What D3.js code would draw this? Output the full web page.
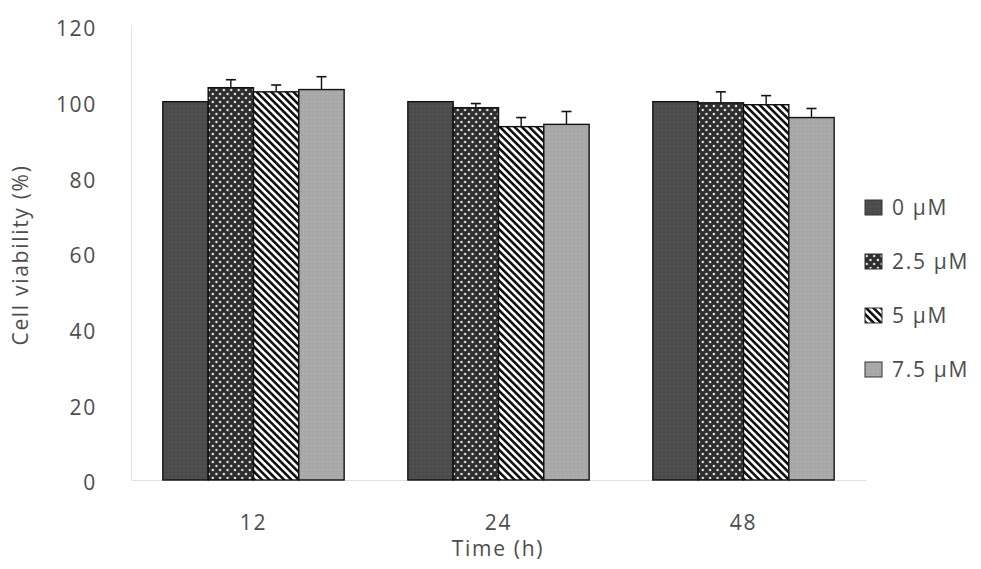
<!DOCTYPE html>
<html>
<head>
<meta charset="utf-8">
<script src="https://cdn.jsdelivr.net/npm/d3@7"></script>
<style>
  body { margin: 0; background: #fff; }
  text { font-family: "Open Sans", "DejaVu Sans", sans-serif; fill: #4d4d4d; letter-spacing: 1.7px; }
</style>
</head>
<body>
<div id="chart"></div>
<script>
var times = ["12", "24", "48"];
var doses = ["0 \u00b5M", "2.5 \u00b5M", "5 \u00b5M", "7.5 \u00b5M"];
var dose0 = [100, 100, 100];
var dose25 = [103.7, 98.4, 99.7];
var dose5 = [102.6, 93.4, 99.2];
var dose75 = [103.2, 94.0, 95.8];
var err0 = [0, 0, 0];
var err25 = [2.1, 1.1, 2.9];
var err5 = [1.8, 2.4, 2.4];
var err75 = [3.4, 3.4, 2.4];
var yTicks = [0, 20, 40, 60, 80, 100, 120];

var means = [dose0, dose25, dose5, dose75];
var errs = [err0, err25, err5, err75];
var fills = ["url(#p0)", "url(#p25)", "url(#p5)", "url(#p75)"];

var W = 981, H = 569;
var fs = "21px";
var svg = d3.select("#chart").append("svg")
    .attr("width", W).attr("height", H);

// patterns
var defs = svg.append("defs");
var p0 = defs.append("pattern").attr("id", "p0")
    .attr("patternUnits", "userSpaceOnUse").attr("width", 4).attr("height", 4);
p0.append("rect").attr("width", 4).attr("height", 4).attr("fill", "#4d4d4d");
p0.append("rect").attr("x", 1).attr("y", 2).attr("width", 1).attr("height", 1).attr("fill", "#5a5a5a");
p0.append("rect").attr("x", 3).attr("y", 0).attr("width", 1).attr("height", 1).attr("fill", "#444");

var p25 = defs.append("pattern").attr("id", "p25")
    .attr("patternUnits", "userSpaceOnUse").attr("width", 7.4).attr("height", 8);
p25.append("rect").attr("width", 7.4).attr("height", 8).attr("fill", "#2e2e2e");
p25.append("circle").attr("cx", 1.8).attr("cy", 2).attr("r", 1.2).attr("fill", "#e6e6e6");
p25.append("circle").attr("cx", 5.5).attr("cy", 6).attr("r", 1.2).attr("fill", "#e6e6e6");

var p5 = defs.append("pattern").attr("id", "p5")
    .attr("patternUnits", "userSpaceOnUse").attr("width", 5.2).attr("height", 10)
    .attr("patternTransform", "rotate(-45)");
p5.append("rect").attr("width", 5.2).attr("height", 10).attr("fill", "#fff");
p5.append("rect").attr("width", 2.6).attr("height", 10).attr("fill", "#111");

var p75 = defs.append("pattern").attr("id", "p75")
    .attr("patternUnits", "userSpaceOnUse").attr("width", 4).attr("height", 4);
p75.append("rect").attr("width", 4).attr("height", 4).attr("fill", "#a9a9a9");
p75.append("rect").attr("x", 0).attr("y", 1).attr("width", 1).attr("height", 1).attr("fill", "#b3b3b3");
p75.append("rect").attr("x", 2).attr("y", 3).attr("width", 1).attr("height", 1).attr("fill", "#9e9e9e");

var x = d3.scaleBand().domain(times).range([131, 866])
    .paddingInner(0.26).paddingOuter(0.13);
var xi = d3.scaleBand().domain(d3.range(doses.length)).range([0, x.bandwidth()]);
var y = d3.scaleLinear().domain([0, 120]).range([480, 26]);

// axes
var ya = svg.append("g").attr("transform", "translate(131,0)")
    .call(d3.axisLeft(y).tickValues(yTicks).tickSize(0).tickPadding(34));
ya.select(".domain").attr("stroke", "#e6e6e6");
ya.selectAll("text").style("font-size", fs).attr("fill", null).attr("font-family", null)
    .attr("y", 3);

var xa = svg.append("g").attr("transform", "translate(0,480)")
    .call(d3.axisBottom(x).tickSize(0).tickPadding(35));
xa.select(".domain").attr("stroke", "#e0e0e0");
xa.selectAll("text").style("font-size", fs).attr("fill", null).attr("font-family", null);

svg.append("text").attr("x", 498).attr("y", 556)
    .attr("text-anchor", "middle").style("font-size", fs)
    .text("Time (h)");
svg.append("text").attr("transform", "translate(28,255) rotate(-90)")
    .attr("text-anchor", "middle").style("font-size", fs)
    .text("Cell viability (%)");

// bars
var groups = svg.append("g").selectAll("g").data(times).enter().append("g")
    .attr("transform", (d) => "translate(" + x(d) + ",0)");

doses.forEach(function(dose, s) {
  groups.append("rect")
      .attr("x", (d, i) => xi(s))
      .attr("y", (d, i) => y(means[s][i]))
      .attr("width", xi.bandwidth())
      .attr("height", (d, i) => y(0) - y(means[s][i]))
      .attr("fill", fills[s])
      .attr("stroke", "#111").attr("stroke-width", 1.4);

  groups.filter((d, i) => errs[s][i] > 0).each(function(d) {
    var i = times.indexOf(d);
    var cx = xi(s) + xi.bandwidth() / 2;
    var g = d3.select(this);
    g.append("line").attr("x1", cx).attr("x2", cx)
        .attr("y1", y(means[s][i])).attr("y2", y(means[s][i] + errs[s][i]))
        .attr("stroke", "#111").attr("stroke-width", 1.4);
    g.append("line").attr("x1", cx - 5).attr("x2", cx + 5)
        .attr("y1", y(means[s][i] + errs[s][i])).attr("y2", y(means[s][i] + errs[s][i]))
        .attr("stroke", "#111").attr("stroke-width", 1.6);
  });
});

// legend
var legendY = [208, 262, 316, 370];
var legend = svg.append("g").selectAll("g").data(doses).enter().append("g")
    .attr("transform", (d, i) => "translate(865," + legendY[i] + ")");
legend.append("rect").attr("x", 0).attr("y", -8).attr("width", 17).attr("height", 15)
    .attr("fill", (d, i) => fills[i]).attr("stroke", "#333").attr("stroke-width", 1);
legend.append("text").attr("x", 27).attr("y", 0).attr("dy", "0.35em")
    .style("font-size", fs).text((d) => d);
</script>
</body>
</html>
